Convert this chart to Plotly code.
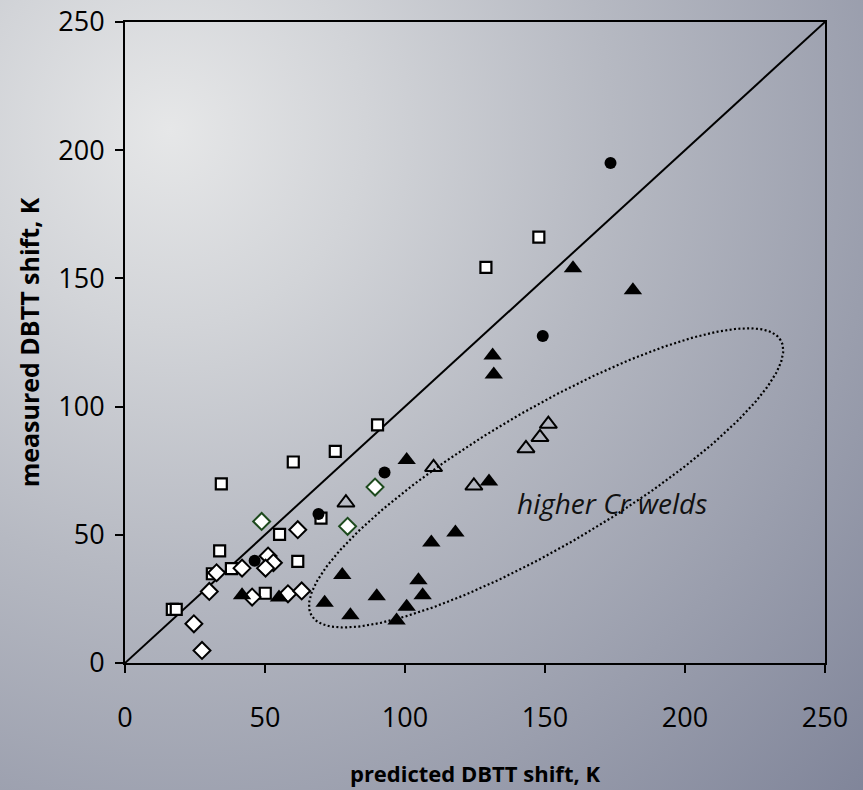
import base64
import numpy as np
import plotly.graph_objects as go

# ---------------- data ----------------
circle_x = [173.4, 149.2, 92.7, 69.1, 46.3]
circle_y = [195.0, 127.5, 74.3, 58.1, 39.9]

square_x = [147.8, 128.9, 90.2, 75.1, 60.1, 34.4, 70.0, 55.2, 33.8, 61.7, 38.0, 31.2, 50.1, 16.9, 18.3]
square_y = [166.1, 154.3, 92.9, 82.5, 78.4, 69.9, 56.5, 50.2, 43.7, 39.6, 36.8, 34.8, 27.2, 20.9, 20.9]

diamond_x = [32.7, 41.8, 51.1, 53.0, 50.2, 61.7, 30.1, 24.6, 27.5, 45.4, 58.2, 63.1]
diamond_y = [35.2, 37.0, 41.7, 39.1, 37.0, 52.0, 27.9, 15.3, 4.9, 25.7, 27.0, 28.1]

green_x = [48.8, 79.5, 89.3]
green_y = [55.2, 53.3, 68.6]

open_tri_x = [78.9, 110.2, 124.6, 143.2, 148.2, 151.2]
open_tri_y = [62.5, 76.3, 69.1, 83.7, 88.0, 93.2]

tri_x = [160.0, 181.4, 131.3, 131.7, 100.6, 130.0, 118.0, 109.4, 77.6, 104.8, 106.3,
         89.9, 71.3, 80.5, 100.6, 97.0, 41.8, 55.0]
tri_y = [154.0, 145.4, 119.9, 112.5, 79.2, 70.8, 50.9, 47.0, 34.3, 32.3, 26.4,
         26.0, 23.5, 18.6, 21.9, 16.6, 26.4, 25.5]

ticks = [0, 50, 100, 150, 200, 250]
line_x = [0, 250]
line_y = [0, 250]

# ellipse ("higher Cr welds") parameters, in data units / degrees on screen
ell_cx, ell_cy = 150.4, 72.2
ell_a_px, ell_b_px, ell_ang = 272.0, 68.0, 30.4
note_text = "higher Cr welds"
note_x, note_y = 174.0, 62.4

# ---------------- layout geometry ----------------
W, H = 863, 790
L, R, T, B = 125, 38, 22, 127
pw, ph = W - L - R, H - T - B
sx, sy = pw / 250.0, ph / 250.0

# ellipse outline (computed in screen pixels, converted back to data)
t = np.linspace(0, 2 * np.pi, 400)
ang = np.deg2rad(ell_ang)
ux, uy = np.cos(ang), np.sin(ang)
px = ell_a_px * np.cos(t) * ux - ell_b_px * np.sin(t) * uy
py = ell_a_px * np.cos(t) * uy + ell_b_px * np.sin(t) * ux
ex = ell_cx + px / sx
ey = ell_cy + py / sy

# background gradient image
svg = f'''<svg xmlns="http://www.w3.org/2000/svg" width="{W}" height="{H}">
<defs><radialGradient id="g" gradientUnits="userSpaceOnUse" cx="170" cy="130" r="980">
<stop offset="0" stop-color="#e6e7e8"/>
<stop offset="0.2" stop-color="#d2d4d8"/>
<stop offset="0.45" stop-color="#b6b9c2"/>
<stop offset="1" stop-color="#7e8398"/>
</radialGradient></defs>
<rect width="{W}" height="{H}" fill="url(#g)"/></svg>'''
bg = "data:image/svg+xml;base64," + base64.b64encode(svg.encode()).decode()

fig = go.Figure()

fig.add_trace(go.Scatter(x=line_x, y=line_y, mode="lines",
                         line=dict(color="black", width=2), hoverinfo="skip"))
fig.add_trace(go.Scatter(x=ex, y=ey, mode="lines",
                         line=dict(color="black", width=2.2, dash="2px,2.4px"), hoverinfo="skip"))

fig.add_trace(go.Scatter(x=square_x, y=square_y, mode="markers",
                         marker=dict(symbol="square", size=11, color="white",
                                     line=dict(color="black", width=2.2))))
fig.add_trace(go.Scatter(x=diamond_x, y=diamond_y, mode="markers",
                         marker=dict(symbol="diamond", size=13, color="white",
                                     line=dict(color="black", width=2))))
fig.add_trace(go.Scatter(x=green_x, y=green_y, mode="markers",
                         marker=dict(symbol="diamond", size=13, color="white",
                                     line=dict(color="#1d4a1d", width=2))))
fig.add_trace(go.Scatter(x=open_tri_x, y=open_tri_y, mode="markers",
                         marker=dict(symbol="triangle-up-open", size=15, color="black",
                                     line=dict(color="black", width=2))))
fig.add_trace(go.Scatter(x=tri_x, y=tri_y, mode="markers",
                         marker=dict(symbol="triangle-up", size=16, color="black",
                                     line=dict(color="black", width=0))))
fig.add_trace(go.Scatter(x=circle_x, y=circle_y, mode="markers",
                         marker=dict(symbol="circle", size=12, color="black",
                                     line=dict(color="black", width=0))))

fig.add_annotation(x=note_x, y=note_y, text=f"<i>{note_text}</i>", showarrow=False,
                   font=dict(family="Open Sans", size=28, color="#111111"))

axis_common = dict(range=[0, 250], tickvals=ticks, ticktext=[str(v) for v in ticks],
                   showgrid=False, zeroline=False, showline=True, linecolor="black",
                   linewidth=2, mirror=True, ticks="outside", ticklen=8, tickwidth=2,
                   tickcolor="black", automargin=False,
                   tickfont=dict(family="Open Sans", size=27, color="black"))

fig.update_layout(
    width=W, height=H, margin=dict(l=L, r=R, t=T, b=B, pad=0, autoexpand=False),
    paper_bgcolor="#b8bbc3", plot_bgcolor="rgba(0,0,0,0)",
    showlegend=False,
    xaxis=dict(**axis_common, ticklabelstandoff=22,
               title=dict(text="<b>predicted DBTT shift, K</b>", standoff=32,
                          font=dict(family="Open Sans", size=22, color="black"))),
    yaxis=dict(**axis_common, ticklabelstandoff=5,
               title=dict(text="<b>measured DBTT shift, K</b>", standoff=12,
                          font=dict(family="Open Sans", size=25, color="black"))),
    images=[dict(source=bg, xref="paper", yref="paper", x=-L / pw, y=1 + T / ph,
                 sizex=W / pw, sizey=H / ph, xanchor="left", yanchor="top",
                 sizing="stretch", layer="below")],
)

fig.write_html("out.html")
